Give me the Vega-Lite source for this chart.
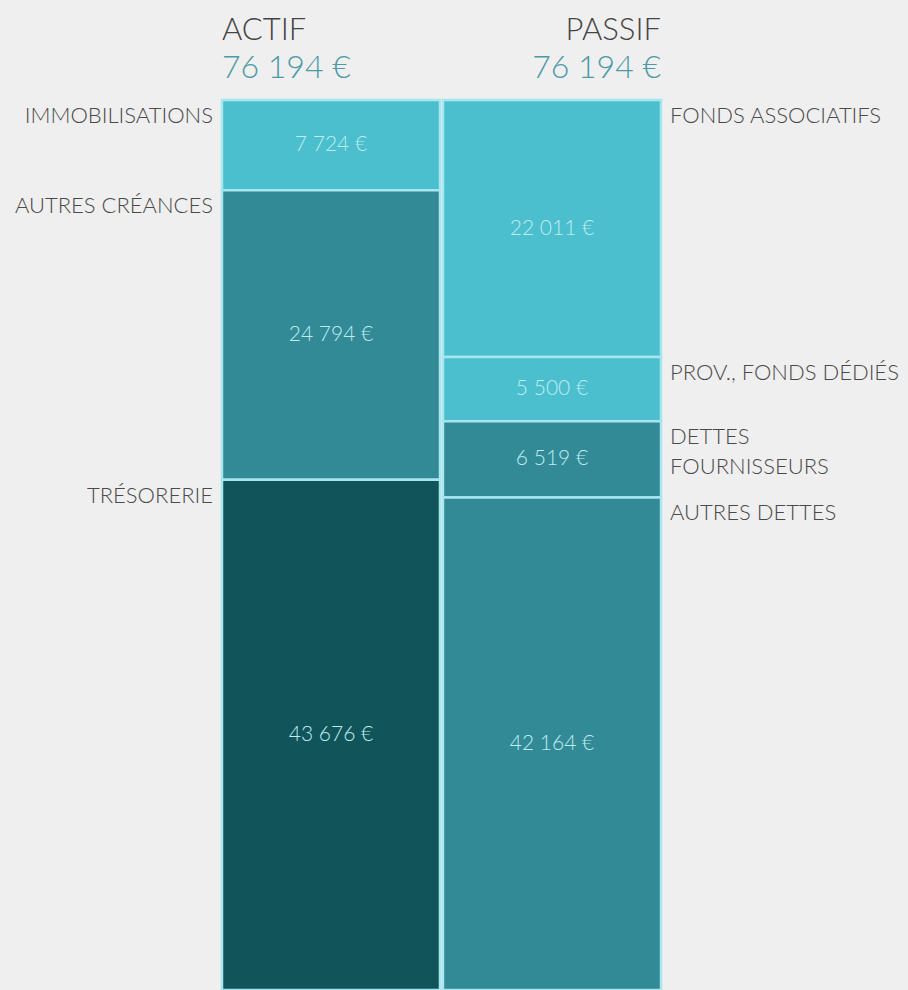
{
  "$schema": "https://vega.github.io/schema/vega-lite/v6.json",
  "width": 908,
  "height": 990,
  "padding": 0,
  "autosize": {"type": "none"},
  "background": "#efefef",
  "config": {
    "view": {"stroke": null},
    "locale": {"number": {"decimal": ",", "thousands": " ", "grouping": [3], "currency": ["", " €"]}}
  },
  "data": {"values": [
    {"cote": "ACTIF", "poste": "IMMOBILISATIONS", "montant": 7724, "rang": 1, "teinte": "clair"},
    {"cote": "ACTIF", "poste": "AUTRES CRÉANCES", "montant": 24794, "rang": 2, "teinte": "moyen"},
    {"cote": "ACTIF", "poste": "TRÉSORERIE", "montant": 43676, "rang": 3, "teinte": "foncé"},
    {"cote": "PASSIF", "poste": "FONDS ASSOCIATIFS", "montant": 22011, "rang": 1, "teinte": "clair"},
    {"cote": "PASSIF", "poste": "PROV., FONDS DÉDIÉS", "montant": 5500, "rang": 2, "teinte": "clair"},
    {"cote": "PASSIF", "poste": "DETTES\nFOURNISSEURS", "montant": 6519, "rang": 3, "teinte": "moyen"},
    {"cote": "PASSIF", "poste": "AUTRES DETTES", "montant": 42164, "rang": 4, "teinte": "moyen"}
  ]},
  "resolve": {"scale": {"y": "independent"}},
  "layer": [
    {
      "mark": {"type": "bar", "stroke": "#a6e6ee", "strokeWidth": 2.5},
      "encoding": {
        "x": {"field": "cote", "type": "nominal", "scale": {"domain": ["ACTIF", "PASSIF"], "range": [222, 661], "paddingInner": 0.0136, "paddingOuter": 0}, "axis": null},
        "y": {"field": "montant", "type": "quantitative", "stack": "zero", "scale": {"domain": [0, 76194], "range": [100, 990], "nice": false}, "axis": null},
        "order": {"field": "rang", "type": "quantitative", "sort": "ascending"},
        "color": {"field": "teinte", "type": "nominal", "scale": {"domain": ["clair", "moyen", "foncé"], "range": ["#4bbfce", "#338a97", "#11555b"]}, "legend": null}
      }
    },
    {
      "mark": {"type": "text", "font": "Lato", "fontWeight": 300, "fontSize": 21, "color": "#bdecf1", "baseline": "middle", "align": "center"},
      "encoding": {
        "x": {"field": "cote", "type": "nominal", "scale": {"domain": ["ACTIF", "PASSIF"], "range": [222, 661], "paddingInner": 0.0136, "paddingOuter": 0}, "axis": null},
        "y": {"field": "montant", "type": "quantitative", "stack": "zero", "bandPosition": 0.5, "scale": {"domain": [0, 76194], "range": [100, 990], "nice": false}, "axis": null},
        "order": {"field": "rang", "type": "quantitative", "sort": "ascending"},
        "text": {"field": "montant", "type": "quantitative", "format": "$,.0f"}
      }
    },
    {
      "transform": [
        {"stack": "montant", "groupby": ["cote"], "sort": [{"field": "rang", "order": "ascending"}], "as": ["debut", "fin"]},
        {"filter": "datum.cote === 'ACTIF'"}
      ],
      "mark": {"type": "text", "font": "Lato", "fontWeight": 300, "fontSize": 22, "color": "#4a4a4a", "align": "right", "baseline": "top", "dx": -9, "dy": 6, "lineBreak": "\n", "lineHeight": 30},
      "encoding": {
        "x": {"field": "cote", "type": "nominal", "bandPosition": 0, "scale": {"domain": ["ACTIF", "PASSIF"], "range": [222, 661], "paddingInner": 0.0136, "paddingOuter": 0}, "axis": null},
        "y": {"field": "debut", "type": "quantitative", "scale": {"domain": [0, 76194], "range": [100, 990], "nice": false}, "axis": null},
        "text": {"field": "poste", "type": "nominal"}
      }
    },
    {
      "transform": [
        {"stack": "montant", "groupby": ["cote"], "sort": [{"field": "rang", "order": "ascending"}], "as": ["debut", "fin"]},
        {"filter": "datum.cote === 'PASSIF'"}
      ],
      "mark": {"type": "text", "font": "Lato", "fontWeight": 300, "fontSize": 22, "color": "#4a4a4a", "align": "left", "baseline": "top", "dx": 9, "dy": 6, "lineBreak": "\n", "lineHeight": 30},
      "encoding": {
        "x": {"field": "cote", "type": "nominal", "bandPosition": 1, "scale": {"domain": ["ACTIF", "PASSIF"], "range": [222, 661], "paddingInner": 0.0136, "paddingOuter": 0}, "axis": null},
        "y": {"field": "debut", "type": "quantitative", "scale": {"domain": [0, 76194], "range": [100, 990], "nice": false}, "axis": null},
        "text": {"field": "poste", "type": "nominal"}
      }
    },
    {
      "transform": [
        {"aggregate": [{"op": "sum", "field": "montant", "as": "total"}], "groupby": ["cote"]},
        {"filter": "datum.cote === 'ACTIF'"}
      ],
      "layer": [
        {
          "mark": {"type": "text", "font": "Lato", "fontWeight": 300, "fontSize": 31, "color": "#444444", "align": "left", "baseline": "middle"},
          "encoding": {
            "x": {"field": "cote", "type": "nominal", "bandPosition": 0, "scale": {"domain": ["ACTIF", "PASSIF"], "range": [222, 661], "paddingInner": 0.0136, "paddingOuter": 0}, "axis": null},
            "y": {"datum": "nom", "type": "nominal", "scale": {"type": "point", "domain": ["nom", "total"], "range": [31, 68], "padding": 0}, "axis": null},
            "text": {"field": "cote", "type": "nominal"}
          }
        },
        {
          "mark": {"type": "text", "font": "Lato", "fontWeight": 300, "fontSize": 32, "color": "#4b9aa6", "align": "left", "baseline": "middle"},
          "encoding": {
            "x": {"field": "cote", "type": "nominal", "bandPosition": 0, "scale": {"domain": ["ACTIF", "PASSIF"], "range": [222, 661], "paddingInner": 0.0136, "paddingOuter": 0}, "axis": null},
            "y": {"datum": "total", "type": "nominal", "scale": {"type": "point", "domain": ["nom", "total"], "range": [31, 68], "padding": 0}, "axis": null},
            "text": {"field": "total", "type": "quantitative", "format": "$,.0f"}
          }
        }
      ]
    },
    {
      "transform": [
        {"aggregate": [{"op": "sum", "field": "montant", "as": "total"}], "groupby": ["cote"]},
        {"filter": "datum.cote === 'PASSIF'"}
      ],
      "layer": [
        {
          "mark": {"type": "text", "font": "Lato", "fontWeight": 300, "fontSize": 31, "color": "#444444", "align": "right", "baseline": "middle"},
          "encoding": {
            "x": {"field": "cote", "type": "nominal", "bandPosition": 1, "scale": {"domain": ["ACTIF", "PASSIF"], "range": [222, 661], "paddingInner": 0.0136, "paddingOuter": 0}, "axis": null},
            "y": {"datum": "nom", "type": "nominal", "scale": {"type": "point", "domain": ["nom", "total"], "range": [31, 68], "padding": 0}, "axis": null},
            "text": {"field": "cote", "type": "nominal"}
          }
        },
        {
          "mark": {"type": "text", "font": "Lato", "fontWeight": 300, "fontSize": 32, "color": "#4b9aa6", "align": "right", "baseline": "middle"},
          "encoding": {
            "x": {"field": "cote", "type": "nominal", "bandPosition": 1, "scale": {"domain": ["ACTIF", "PASSIF"], "range": [222, 661], "paddingInner": 0.0136, "paddingOuter": 0}, "axis": null},
            "y": {"datum": "total", "type": "nominal", "scale": {"type": "point", "domain": ["nom", "total"], "range": [31, 68], "padding": 0}, "axis": null},
            "text": {"field": "total", "type": "quantitative", "format": "$,.0f"}
          }
        }
      ]
    }
  ]
}
